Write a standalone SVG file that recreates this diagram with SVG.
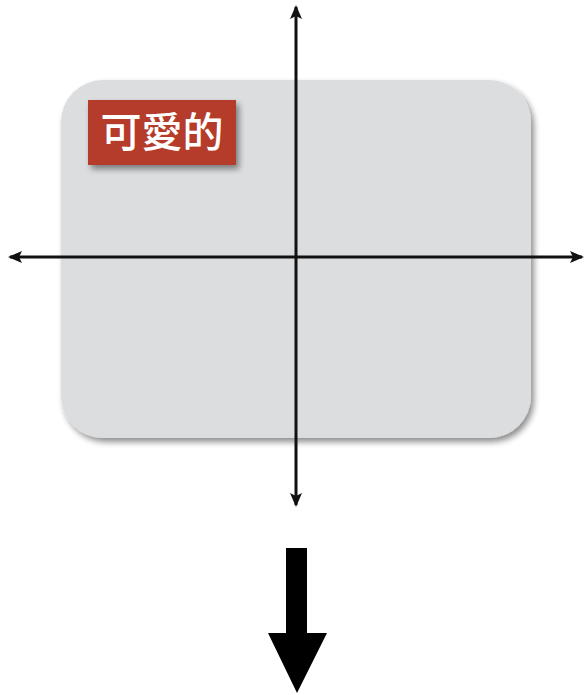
<svg xmlns="http://www.w3.org/2000/svg" width="584" height="695" viewBox="0 0 584 695">
  <style>
    .axis { stroke: #111; stroke-width: 3; fill: none; }
    .label { font-family: "Noto Sans CJK TC", "Noto Sans CJK SC", serif; font-size: 41px; font-weight: 500; fill: #ffffff; }
  </style>
  <defs>
    <marker id="ah" viewBox="0 0 14 12" refX="12" refY="6" markerWidth="14" markerHeight="12" markerUnits="userSpaceOnUse" orient="auto-start-reverse">
      <path d="M0,0 L14,6 L0,12 L3,6 Z" fill="#111"/>
    </marker>
    <filter id="sh" x="-10%" y="-10%" width="125%" height="125%">
      <feGaussianBlur in="SourceAlpha" stdDeviation="3"/>
      <feOffset dx="3" dy="4" result="b"/>
      <feComponentTransfer><feFuncA type="linear" slope="0.45"/></feComponentTransfer>
      <feMerge><feMergeNode/><feMergeNode in="SourceGraphic"/></feMerge>
    </filter>
  </defs>
  <rect width="584" height="695" fill="#ffffff"/>
  <g id="panel">
    <rect x="61" y="80" width="470" height="358" rx="42" ry="42" fill="#dcdddf" filter="url(#sh)"/>
  </g>
  <g id="tag">
    <rect x="88" y="100" width="148" height="65" fill="#b53a2a" filter="url(#sh)"/>
    <text class="label" x="162" y="147" text-anchor="middle">可愛的</text>
  </g>
  <g id="connectors">
    <line class="axis" x1="10" y1="257" x2="582" y2="257" marker-start="url(#ah)" marker-end="url(#ah)"/>
    <line class="axis" x1="296" y1="7" x2="296" y2="505" marker-start="url(#ah)" marker-end="url(#ah)"/>
  </g>
  <g id="big-arrow">
    <path d="M286,548 L307,548 L307,633 L327,633 L297,693 L268,633 L286,633 Z" fill="#000"/>
  </g>
</svg>
